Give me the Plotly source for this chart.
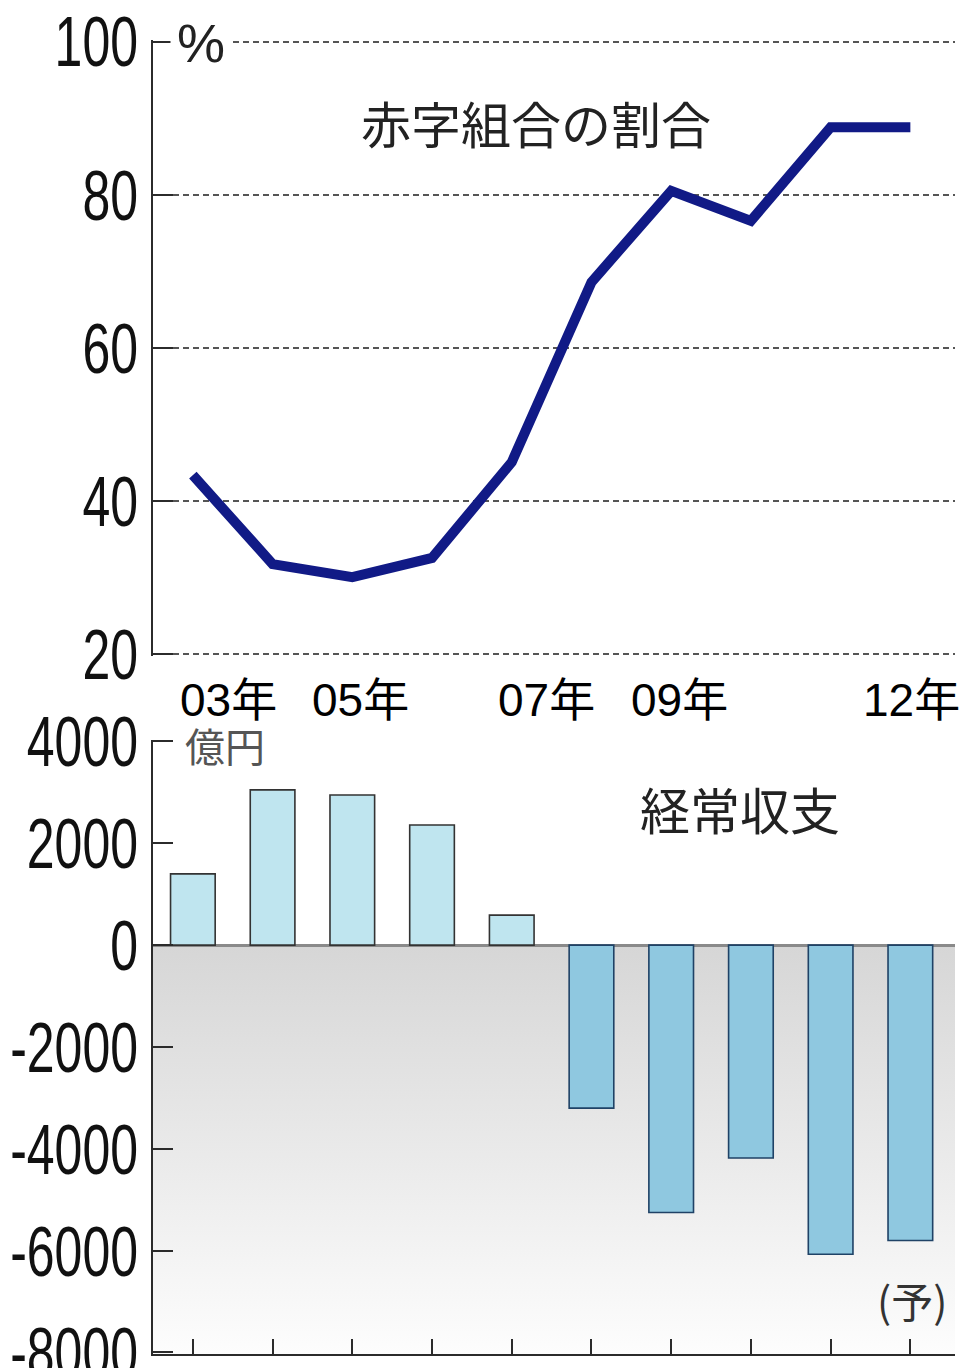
import base64
import plotly.graph_objects as go

# Fiscal years shown on both panels
years = list(range(2003, 2013))

# Share of associations in deficit (%)
deficit_share = [43.4, 31.8, 30.1, 32.6, 45.1, 68.6, 80.5, 76.6, 88.8, 88.8]

# Current balance (100 million yen)
current_balance = [1400, 3050, 2950, 2360, 590, -3200, -5250, -4180, -6070, -5800]

# Year captions between the panels and where they sit on the year axis
year_labels = ["03年", "05年", "07年", "09年", "12年"]
year_label_pos = [2003.45, 2005.1, 2007.44, 2009.1, 2012.02]

share_ticks = [20, 40, 60, 80, 100]
balance_ticks = [-8000, -6000, -4000, -2000, 0, 2000, 4000]

X_RANGE = [2002.5, 2012.56]
BAL_RANGE = [-8030, 4030]
SANS = "Liberation Sans, Arial, sans-serif"
JP = "Noto Sans CJK JP, Noto Sans, sans-serif"
AXIS_COLOR = "#2b2b2b"

# Vertical grey-to-white gradient used behind the negative half of the balance panel
gradient_svg = (
    "<svg xmlns='http://www.w3.org/2000/svg' width='100' height='100' "
    "preserveAspectRatio='none'><defs><linearGradient id='g' x1='0' y1='0' "
    "x2='0' y2='1'><stop offset='0' stop-color='#d6d6d6'/>"
    "<stop offset='1' stop-color='#fdfdfd'/></linearGradient></defs>"
    "<rect width='100' height='100' fill='url(#g)'/></svg>"
)
gradient_src = "data:image/svg+xml;base64," + base64.b64encode(
    gradient_svg.encode()).decode()

fig = go.Figure()

# Deficit share line
fig.add_trace(go.Scatter(
    x=years, y=deficit_share,
    mode="lines",
    line=dict(color="#111a86", width=10),
    showlegend=False,
    xaxis="x", yaxis="y",
))

# Current balance bars
bar_colors = ["#bfe5ef" if v >= 0 else "#8fc8e0" for v in current_balance]
bar_lines = ["#333333" if v >= 0 else "#1f4266" for v in current_balance]
fig.add_trace(go.Bar(
    x=years, y=current_balance,
    width=0.56,
    marker=dict(color=bar_colors, line=dict(color=bar_lines, width=1.6)),
    showlegend=False,
    xaxis="x2", yaxis="y2",
))

tick_font = dict(family=SANS, size=50, color="#111111")

fig.update_layout(
    width=963, height=1368,
    margin=dict(l=153, r=8, t=40, b=14),
    paper_bgcolor="white",
    plot_bgcolor="rgba(0,0,0,0)",
    xaxis=dict(
        domain=[0, 1], anchor="y", range=X_RANGE, automargin=False,
        showline=False, showgrid=False, zeroline=False,
        showticklabels=False, ticks="",
    ),
    yaxis=dict(
        domain=[0.5312, 1], anchor="x", range=[19.8, 100.2], automargin=False,
        tickvals=share_ticks, ticktext=[str(v) for v in share_ticks],
        ticks="inside", ticklen=20, tickwidth=2, tickcolor=AXIS_COLOR,
        showline=True, linecolor=AXIS_COLOR, linewidth=2,
        showgrid=True, gridcolor="#555555", gridwidth=1.5, griddash="6px,4px",
        zeroline=False,
        tickfont=tick_font, ticklabelstandoff=3, ticklabeloverflow="allow",
    ),
    xaxis2=dict(
        domain=[0, 1], anchor="y2", range=X_RANGE, automargin=False,
        tickvals=years, ticks="inside", ticklen=15, tickwidth=2,
        tickcolor=AXIS_COLOR,
        showline=True, linecolor=AXIS_COLOR, linewidth=2,
        showgrid=False, zeroline=False, showticklabels=False,
    ),
    yaxis2=dict(
        domain=[0, 0.4673], anchor="x2", range=BAL_RANGE, automargin=False,
        tickvals=balance_ticks, ticktext=[str(v) for v in balance_ticks],
        ticks="inside", ticklen=20, tickwidth=2, tickcolor=AXIS_COLOR,
        showline=True, linecolor=AXIS_COLOR, linewidth=2,
        showgrid=False,
        zeroline=True, zerolinecolor="#8a8a8a", zerolinewidth=3,
        tickfont=tick_font, ticklabelstandoff=3, ticklabeloverflow="allow",
    ),
    images=[dict(
        source=gradient_src, xref="x2", yref="y2",
        x=X_RANGE[0], y=0, sizex=X_RANGE[1] - X_RANGE[0],
        sizey=-BAL_RANGE[0], xanchor="left", yanchor="top",
        sizing="stretch", layer="below",
    )],
)

annotations = [
    dict(text="%", x=0.060, y=0.9977, xref="paper", yref="paper",
         font=dict(family=SANS, size=54, color="#222222"),
         bgcolor="white", borderpad=6),
    dict(text="赤字組合の割合", x=0.4776, y=0.9376, xref="paper", yref="paper",
         font=dict(family=JP, size=50, color="#222222")),
    dict(text="経常収支", x=0.7319, y=0.4155, xref="paper", yref="paper",
         font=dict(family=JP, size=50, color="#222222")),
    dict(text="億円", x=0.0898, y=0.4635, xref="paper", yref="paper",
         font=dict(family=JP, size=40, color="#555555")),
    dict(text="(予)", x=0.9464, y=0.0411, xref="paper", yref="paper",
         font=dict(family=JP, size=42, color="#333333")),
]
for label, pos in zip(year_labels, year_label_pos):
    annotations.append(dict(
        text=label, x=pos, y=0.4977, xref="x", yref="paper",
        font=dict(family="Liberation Sans, Arial, Noto Sans CJK JP, sans-serif",
                  size=46, color="#000000"),
    ))

for a in annotations:
    a.setdefault("showarrow", False)
    a.setdefault("xanchor", "center")
    a.setdefault("yanchor", "middle")
fig.update_layout(annotations=annotations)

# Draw the value-axis numerals in a tall, condensed style
stretch_js = """
var gd = document.getElementById('{plot_id}');
function stretchTicks() {
  gd.querySelectorAll('.ytick text, .y2tick text').forEach(function (t) {
    var tr = t.getAttribute('transform') || '';
    if (tr.indexOf('scale') < 0) {
      t.setAttribute('transform', tr + ' scale(1,1.42)');
    }
  });
}
stretchTicks();
gd.on('plotly_afterplot', stretchTicks);
"""

fig.write_html("out.html", post_script=stretch_js)
